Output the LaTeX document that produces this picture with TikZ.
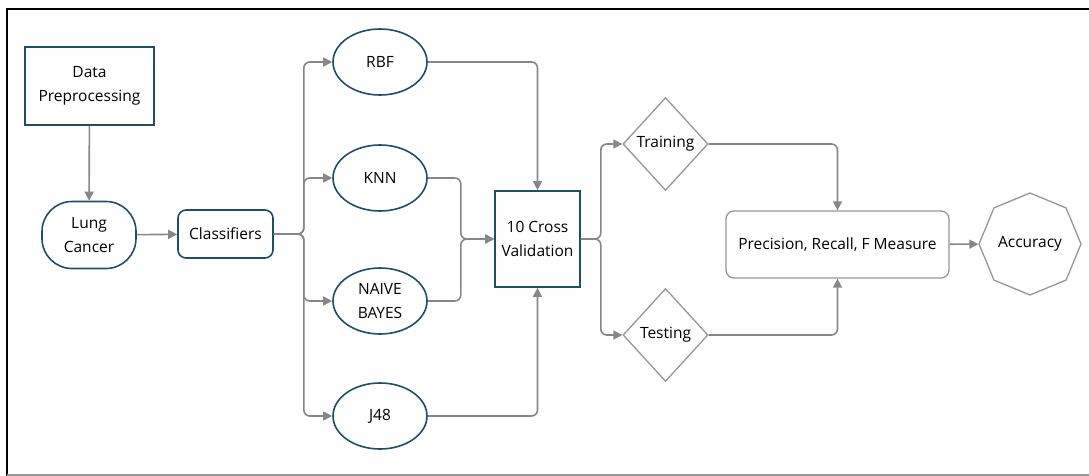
\documentclass[tikz,border=0pt]{standalone}
\usepackage{fontspec}
\setmainfont{Open Sans}
\usepackage{tikz}
\usetikzlibrary{arrows.meta, shapes.geometric}
\definecolor{TealLine}{RGB}{32,78,104}
\definecolor{ArrowGray}{RGB}{135,135,135}
\definecolor{ShapeGray}{RGB}{150,150,150}

\begin{document}
\begin{tikzpicture}[x=1pt, y=-1pt,
    every node/.style={font=\fontsize{15.5}{24}\selectfont, align=center, inner sep=1pt},
    tealbox/.style={draw=TealLine, line width=1.6pt, minimum width=#1},
    flowarrow/.style={draw=ArrowGray, line width=1.6pt, rounded corners=6pt, -{Triangle[length=9pt, width=9pt]}},
    classifier/.style={ellipse, draw=TealLine, line width=1.6pt, minimum width=94pt, minimum height=66pt, inner sep=0pt},
    splitdiamond/.style={diamond, draw=ShapeGray, line width=1.3pt, minimum width=85pt, minimum height=93pt, inner sep=0pt}]
  \useasboundingbox (0,0) rectangle (1089,476);
  \draw[line width=2.5pt, black] (7,476) -- (7,9) -- (1089,9);
  \draw[line width=1.5pt, ShapeGray] (7,475) -- (1089,475);

  \node[tealbox=129pt, minimum height=78pt] (prep) at (89.5,86) {Data\\Preprocessing};
  \node[tealbox=94pt, minimum height=67pt, rounded corners=30pt] (lung) at (89,235) {Lung\\Cancer};
  \node[tealbox=95pt, minimum height=48pt, rounded corners=8pt] (cls) at (225.5,234) {Classifiers};

  \node[classifier] (rbf) at (380,62) {RBF};
  \node[classifier] (knn) at (380,178) {KNN};
  \node[classifier] (nb) at (380,301) {NAIVE\\BAYES};
  \node[classifier] (j48) at (380,416) {J48};

  \node[tealbox=85pt, minimum height=96pt] (cv) at (537.5,239) {10 Cross\\Validation};

  \node[splitdiamond] (train) at (665.5,144) {Training};
  \node[splitdiamond] (test) at (665.5,335) {Testing};

  \node[draw=ShapeGray, line width=1.3pt, rounded corners=8pt, minimum width=223pt, minimum height=67pt] (prec) at (837.5,244.5) {Precision, Recall, F Measure};
  \node[regular polygon, regular polygon sides=8, shape border rotate=22.5, draw=ShapeGray, line width=1.3pt, minimum size=102pt, inner sep=0pt] (acc) at (1030,244) {Accuracy};

  \draw[flowarrow] (prep) -- (lung);
  \draw[flowarrow] (lung) -- (cls);
  \foreach \c in {rbf, knn, nb, j48}
    \draw[flowarrow] (cls.east) -- ++(30,0) |- (\c.west);
  \draw[flowarrow] (rbf.east) -| (cv.north);
  \draw[flowarrow] (knn.east) -- ++(33,0) |- (cv.west);
  \draw[flowarrow] (nb.east) -- ++(33,0) |- (cv.west);
  \draw[flowarrow] (j48.east) -| (cv.south);
  \draw[flowarrow] (cv.east) -- ++(20,0) |- (train.west);
  \draw[flowarrow] (cv.east) -- ++(20,0) |- (test.west);
  \draw[flowarrow] (train.east) -| (prec.north);
  \draw[flowarrow] (test.east) -| (prec.south);
  \draw[flowarrow] (prec) -- (acc);
\end{tikzpicture}
\end{document}
